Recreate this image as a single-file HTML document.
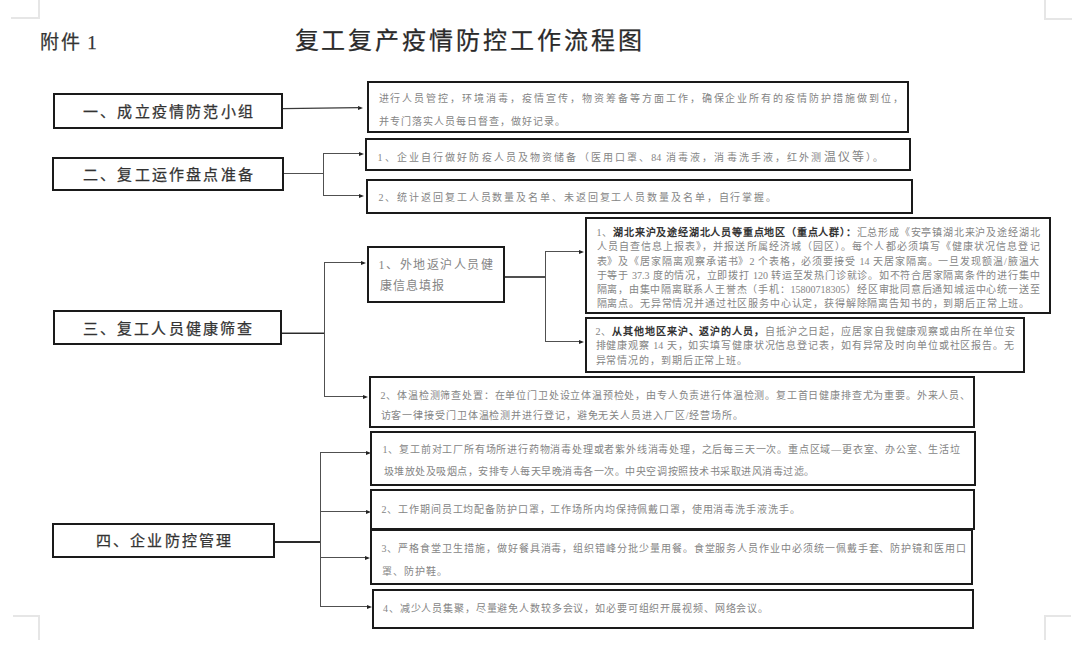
<!DOCTYPE html>
<html lang="zh-CN">
<head>
<meta charset="utf-8">
<title>复工复产疫情防控工作流程图</title>
<style>
html,body{margin:0;padding:0;background:#fff;}
body{width:1080px;height:646px;position:relative;overflow:hidden;font-family:"Liberation Serif",serif;}
.b{position:absolute;box-sizing:border-box;border:2px solid #1a1a1a;}
.h{position:absolute;background:#505050;}
.v{position:absolute;width:1px;background:#505050;}
.a{position:absolute;width:0;height:0;border-top:2px solid transparent;border-bottom:2px solid transparent;border-left:5px solid #222;}
.m{position:absolute;background:#e6e6e6;}
.t{position:absolute;white-space:nowrap;}
.j{text-align:justify;text-align-last:justify;}
.L{position:absolute;font-weight:normal;-webkit-text-stroke:0.25px #333;color:#333;font-size:15px;line-height:15px;text-align:center;white-space:nowrap;letter-spacing:2.2px;}
b{font-weight:bold;}
</style>
</head>
<body>
<div class="m" style="left:38px;top:0;width:2px;height:17px"></div>
<div class="m" style="left:11px;top:17px;width:29px;height:2px"></div>
<div class="m" style="left:1044px;top:0;width:2px;height:18px"></div>
<div class="m" style="left:1044px;top:18px;width:28px;height:1.5px"></div>
<div class="m" style="left:13px;top:615px;width:27px;height:1.5px"></div>
<div class="m" style="left:38px;top:615px;width:2px;height:25px"></div>
<div class="m" style="left:1044px;top:615px;width:1.5px;height:25px"></div>
<div class="m" style="left:1044px;top:615px;width:27px;height:1.5px"></div>
<div class="t" style="left:40px;top:32.5px;font-size:19px;line-height:19px;color:#333;letter-spacing:2.4px;-webkit-text-stroke:0.25px #333">附件<span style="letter-spacing:0;margin-left:4.5px">1</span></div>
<div class="t" style="left:294.5px;top:29px;font-size:24px;line-height:24px;color:#2a2a2a;letter-spacing:2.95px;-webkit-text-stroke:0.25px #2a2a2a">复工复产疫情防控工作流程图</div>

<div class="b" style="left:53px;top:93px;width:230px;height:36px"></div>
<div class="L" style="left:53px;top:104.6px;width:232.2px">一、成立疫情防范小组</div>
<div class="b" style="left:52px;top:157px;width:232px;height:34px"></div>
<div class="L" style="left:52px;top:168.3px;width:234.2px">二、复工运作盘点准备</div>
<div class="b" style="left:53px;top:310px;width:229px;height:35px"></div>
<div class="L" style="left:53px;top:322px;width:231.2px">三、复工人员健康筛查</div>
<div class="b" style="left:52px;top:523px;width:223px;height:35px"></div>
<div class="L" style="left:52px;top:534.3px;width:225.2px">四、企业防控管理</div>
<div class="b" style="left:367px;top:81px;width:542px;height:52px"></div>
<div class="b" style="left:365px;top:138px;width:546px;height:33px"></div>
<div class="b" style="left:366px;top:179px;width:547px;height:35px"></div>
<div class="b" style="left:367px;top:246px;width:138px;height:57px"></div>
<div class="b" style="left:585px;top:217px;width:466px;height:97px"></div>
<div class="b" style="left:585px;top:317px;width:440px;height:56px"></div>
<div class="b" style="left:369px;top:376px;width:606px;height:52px"></div>
<div class="b" style="left:370px;top:431px;width:606px;height:55px"></div>
<div class="b" style="left:370px;top:489px;width:605px;height:41px"></div>
<div class="b" style="left:370px;top:529px;width:603px;height:56px"></div>
<div class="b" style="left:372px;top:589px;width:602px;height:40px"></div>
<div class="h" style="left:284px;top:173px;width:39px;height:1px;"></div>
<div class="h" style="left:323px;top:153px;width:36px;height:1px;"></div>
<div class="h" style="left:323px;top:195px;width:37px;height:1px;"></div>
<div class="h" style="left:282px;top:332px;width:42px;height:1px;background:#999;"></div>
<div class="h" style="left:282px;top:333px;width:42px;height:1px;background:#2a2a2a;"></div>
<div class="h" style="left:324px;top:262px;width:38px;height:1px;"></div>
<div class="h" style="left:324px;top:396px;width:40px;height:1px;"></div>
<div class="h" style="left:505px;top:276px;width:40px;height:2px;"></div>
<div class="h" style="left:545px;top:251px;width:35px;height:1px;"></div>
<div class="h" style="left:545px;top:341px;width:35px;height:1px;"></div>
<div class="h" style="left:275px;top:541px;width:46px;height:2px;background:#2a2a2a;"></div>
<div class="h" style="left:320px;top:452px;width:47px;height:1px;"></div>
<div class="h" style="left:320px;top:511px;width:47px;height:1px;"></div>
<div class="h" style="left:320px;top:557px;width:47px;height:1px;"></div>
<div class="h" style="left:320px;top:606px;width:48px;height:1px;"></div>
<div class="v" style="left:323px;top:153px;height:43px"></div>
<div class="v" style="left:324px;top:262px;height:135px"></div>
<div class="v" style="left:545px;top:251px;height:91px"></div>
<div class="v" style="left:320px;top:452px;height:155px"></div>
<div class="a" style="left:358px;top:105.5px"></div>
<div class="a" style="left:358.5px;top:151.5px"></div>
<div class="a" style="left:359px;top:193.5px"></div>
<div class="a" style="left:361px;top:260.5px"></div>
<div class="a" style="left:363px;top:394.5px"></div>
<div class="a" style="left:578.5px;top:249.5px"></div>
<div class="a" style="left:578.5px;top:339.5px"></div>
<div class="a" style="left:365.5px;top:450.5px"></div>
<div class="a" style="left:365.5px;top:509.5px"></div>
<div class="a" style="left:365px;top:555.5px"></div>
<div class="a" style="left:367px;top:604.5px"></div>
<div class="t j" style="left:378.5px;top:93.7px;font-size:10px;line-height:10px;color:#858585;width:524.5px;">进行人员管控，环境消毒，疫情宣传，物资筹备等方面工作，确保企业所有的疫情防护措施做到位，</div>
<div class="t" style="left:378.5px;top:116.8px;font-size:10px;line-height:10px;color:#858585;letter-spacing:1.0px;">并专门落实人员每日督查，做好记录。</div>
<div class="t j" style="left:377.5px;top:152.4px;font-size:10px;line-height:10px;color:#858585;width:505.5px;">1、企业自行做好防疫人员及物资储备（医用口罩、84 消毒液，消毒洗手液，红外测<span style='font-size:12px'>温仪等</span>）。</div>
<div class="t" style="left:378.5px;top:192.8px;font-size:10px;line-height:10px;color:#858585;letter-spacing:1.9px;">2、统计返回复工人员数量及名单、未返回复工人员数量及名单，自行掌握。</div>
<div class="t j" style="left:378.5px;top:258.7px;font-size:12px;line-height:12px;color:#858585;width:114.5px;">1、外地返沪人员健</div>
<div class="t" style="left:379.5px;top:280.1px;font-size:12px;line-height:12px;color:#858585;letter-spacing:1.2px;">康信息填报</div>
<div class="t j" style="left:596.5px;top:227.9px;font-size:10px;line-height:10px;color:#858585;width:443.0px;">1、<b style='color:#333'>湖北来沪及途经湖北人员等重点地区（重点人群）：</b>汇总形成《安亭镇湖北来沪及途经湖北</div>
<div class="t j" style="left:596.5px;top:242.2px;font-size:10px;line-height:10px;color:#858585;width:443.0px;">人员自查信息上报表》，并报送所属经济城（园区）。每个人都必须填写《健康状况信息登记</div>
<div class="t j" style="left:596.5px;top:256.5px;font-size:10px;line-height:10px;color:#858585;width:443.0px;">表》及《居家隔离观察承诺书》2 个表格，必须要接受 14 天居家隔离。一旦发现额温/腋温大</div>
<div class="t j" style="left:596.5px;top:270.8px;font-size:10px;line-height:10px;color:#858585;width:443.0px;">于等于 37.3 度的情况，立即拨打 120 转运至发热门诊就诊。如不符合居家隔离条件的进行集中</div>
<div class="t j" style="left:596.5px;top:285.1px;font-size:10px;line-height:10px;color:#858585;width:443.0px;">隔离，由集中隔离联系人王誉杰（手机：15800718305）经区审批同意后通知城运中心统一送至</div>
<div class="t" style="left:596.5px;top:299.4px;font-size:10px;line-height:10px;color:#858585;letter-spacing:0.84px;">隔离点。无异常情况并通过社区服务中心认定，获得解除隔离告知书的，到期后正常上班。</div>
<div class="t j" style="left:595.5px;top:326.7px;font-size:10px;line-height:10px;color:#858585;width:419.0px;">2、<b style='color:#333'>从其他地区来沪、返沪的人员，</b>自抵沪之日起，应居家自我健康观察或由所在单位安</div>
<div class="t j" style="left:595.5px;top:341.4px;font-size:10px;line-height:10px;color:#858585;width:418.5px;">排健康观察 14 天，如实填写健康状况信息登记表，如有异常及时向单位或社区报告。无</div>
<div class="t" style="left:595.5px;top:356.1px;font-size:10px;line-height:10px;color:#858585;letter-spacing:0.9px;">异常情况的，到期后正常上班。</div>
<div class="t j" style="left:380.5px;top:391.3px;font-size:10px;line-height:10px;color:#858585;width:589.5px;">2、体温检测筛查处置：在单位门卫处设立体温预检处，由专人负责进行体温检测。复工首日健康排查尤为重要。外来人员、</div>
<div class="t" style="left:380.5px;top:410.7px;font-size:10px;line-height:10px;color:#858585;letter-spacing:0.9px;">访客一律接受门卫体温检测并进行登记，避免无关人员进入厂区/经营场所。</div>
<div class="t j" style="left:382.5px;top:445.1px;font-size:10px;line-height:10px;color:#858585;width:577.5px;">1、复工前对工厂所有场所进行药物消毒处理或者紫外线消毒处理，之后每三天一次。重点区域—更衣室、办公室、生活垃</div>
<div class="t" style="left:383.5px;top:467.1px;font-size:10px;line-height:10px;color:#858585;letter-spacing:0.52px;">圾堆放处及吸烟点，安排专人每天早晚消毒各一次。中央空调按照技术书采取进风消毒过滤。</div>
<div class="t" style="left:381.5px;top:504.5px;font-size:10px;line-height:10px;color:#858585;letter-spacing:0.87px;">2、工作期间员工均配备防护口罩，工作场所内均保持佩戴口罩，使用消毒洗手液洗手。</div>
<div class="t j" style="left:381.5px;top:543.7px;font-size:10px;line-height:10px;color:#858585;width:584.5px;">3、严格食堂卫生措施，做好餐具消毒，组织错峰分批少量用餐。食堂服务人员作业中必须统一佩戴手套、防护镜和医用口</div>
<div class="t" style="left:381.5px;top:567.4px;font-size:10px;line-height:10px;color:#858585;letter-spacing:1.0px;">罩、防护鞋。</div>
<div class="t" style="left:383px;top:604.3px;font-size:10px;line-height:10px;color:#858585;letter-spacing:0.86px;">4、减少人员集聚，尽量避免人数较多会议，如必要可组织开展视频、网络会议。</div>
<svg style="position:absolute;left:0;top:0" width="1080" height="646"><line x1="283" y1="108.6" x2="359" y2="107.6" stroke="#3a3a3a" stroke-width="1.1"/></svg>
</body>
</html>
